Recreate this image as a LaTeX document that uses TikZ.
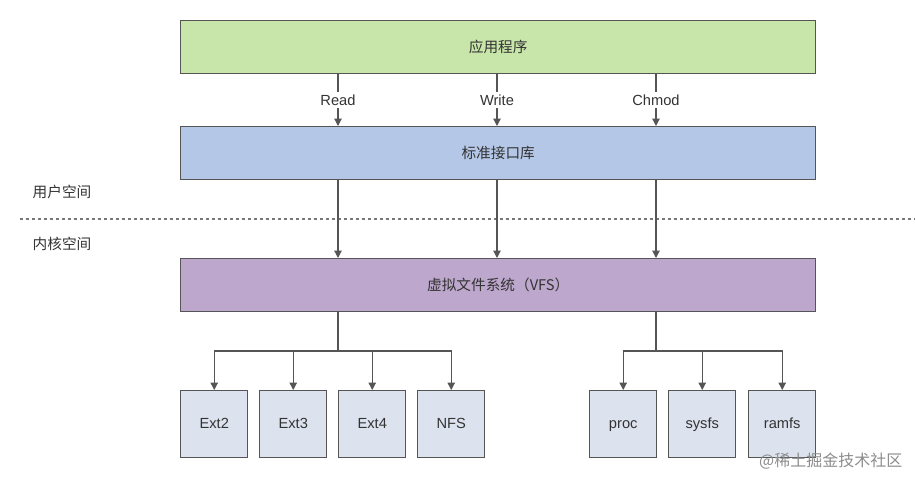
\documentclass[tikz,border=0pt]{standalone}
\usepackage{fontspec}
\setmainfont{Liberation Sans}
\newfontfamily\cjk{Noto Sans CJK SC}
\usetikzlibrary{arrows.meta,positioning}
\definecolor{appg}{HTML}{C8E6AA}
\definecolor{libb}{HTML}{B4C7E7}
\definecolor{vfsp}{HTML}{BDA7CC}
\definecolor{fsbox}{HTML}{DCE2EE}
\definecolor{edge}{HTML}{555555}
\definecolor{txt}{HTML}{333333}
\begin{document}
\begin{tikzpicture}[x=0.75pt,y=-0.75pt,
  wide/.style={draw=edge,line width=1.1pt,minimum width=635*0.75pt,minimum height=53*0.75pt,inner sep=0pt,anchor=north west,text=txt,font=\cjk\fontsize{11}{13}\selectfont},
  fsb/.style={draw=edge,line width=1.1pt,fill=fsbox,minimum width=67*0.75pt,minimum height=67*0.75pt,inner sep=0pt,anchor=north west,text=txt,text height=8pt,text depth=2pt,font=\fontsize{11}{13}\selectfont},
  arr/.style={draw=edge,line width=0.9pt,-{Triangle[length=5.5pt,width=5.5pt]}},
  ln/.style={draw=edge,line width=0.9pt},
  lbl/.style={fill=white,inner sep=2pt,text=txt,font=\fontsize{11}{13}\selectfont},
  side/.style={text=txt,font=\cjk\fontsize{11}{13}\selectfont,anchor=west}]
\useasboundingbox (0,0) rectangle (915,476);
\node[wide,fill=appg] (app) at (180,20) {应用程序};
\node[wide,fill=libb] (lib) at (180,126) {标准接口库};
\node[wide,fill=vfsp] (vfs) at (180,258) {虚拟文件系统（VFS）};
\node[side] (us) at (28,192) {用户空间};
\node[side] (ks) at (28,244) {内核空间};
\coordinate (dl) at (20,219);
\coordinate (dr) at (915,219);
\draw[edge!80,line width=1.2pt,dash pattern=on 2pt off 2.5pt] (dl) -- (dr);
\coordinate (cR) at (338,0);
\coordinate (cW) at (497,0);
\coordinate (cC) at (656,0);
\draw[arr] (app.south -| cR) -- node[lbl,pos=0.5] (lr) {Read} (lib.north -| cR);
\draw[arr] (app.south -| cW) -- node[lbl,pos=0.5] (lw) {Write} (lib.north -| cW);
\draw[arr] (app.south -| cC) -- node[lbl,pos=0.5] (lc) {Chmod} (lib.north -| cC);
\draw[arr] (lib.south -| cR) -- (vfs.north -| cR);
\draw[arr] (lib.south -| cW) -- (vfs.north -| cW);
\draw[arr] (lib.south -| cC) -- (vfs.north -| cC);
\node[fsb] (e2) at (180,390) {Ext2};
\node[fsb] (e3) at (259,390) {Ext3};
\node[fsb] (e4) at (338,390) {Ext4};
\node[fsb] (nfs) at (417,390) {NFS};
\node[fsb] (proc) at (589,390) {proc};
\node[fsb] (sysfs) at (668,390) {sysfs};
\node[fsb] (ramfs) at (748,390) {ramfs};
\coordinate (b1) at (338,351);
\coordinate (b2) at (656,351);
\draw[ln] (vfs.south -| b1) -- (b1);
\draw[ln] (vfs.south -| b2) -- (b2);
\draw[arr] (b1) -| (e2.north);
\draw[arr] (b1) -| (e3.north);
\draw[arr] (b1) -| (e4.north);
\draw[arr] (b1) -| (nfs.north);
\draw[arr] (b2) -| (proc.north);
\draw[arr] (b2) -| (sysfs.north);
\draw[arr] (b2) -| (ramfs.north);
\node[anchor=east,text=black!45,font=\cjk\fontsize{12}{14}\selectfont] (wm) at (907,461) {@稀土掘金技术社区};
\end{tikzpicture}
\end{document}
